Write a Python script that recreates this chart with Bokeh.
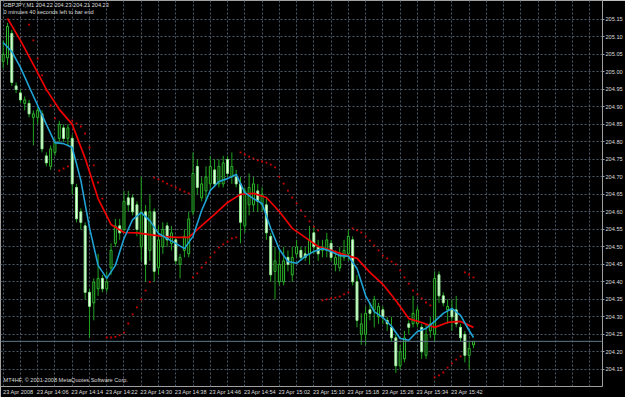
from bokeh.plotting import figure
from bokeh.models import FixedTicker, Label, Span, PrintfTickFormatter
from bokeh.embed import file_html
from bokeh.resources import INLINE

# ---------------- data (GBPJPY, M1, 23 Apr 2008 13:58 .. 15:47) ----------------
bars = list(range(110))
open_ = [205.03, 205.04, 205.11, 204.96, 204.94, 204.91, 204.91, 204.87, 204.87, 204.88,
         204.76, 204.73, 204.77, 204.81, 204.84, 204.81, 204.81, 204.67, 204.60, 204.56,
         204.37, 204.34, 204.38, 204.41, 204.38, 204.44, 204.51, 204.56, 204.55, 204.64,
         204.64, 204.62, 204.50, 204.60, 204.49, 204.60, 204.44, 204.50, 204.56, 204.51,
         204.52, 204.45, 204.49, 204.48, 204.60, 204.73, 204.64, 204.66, 204.68, 204.72,
         204.68, 204.68, 204.75, 204.70, 204.70, 204.68, 204.56, 204.62, 204.62, 204.66,
         204.62, 204.62, 204.53, 204.43, 204.40, 204.40, 204.47, 204.42, 204.48, 204.49,
         204.48, 204.48, 204.54, 204.50, 204.49, 204.49, 204.51, 204.45, 204.44, 204.47,
         204.48, 204.52, 204.40, 204.25, 204.25, 204.32, 204.32, 204.30, 204.32, 204.29,
         204.27, 204.24, 204.16, 204.18, 204.28, 204.28, 204.28, 204.27, 204.19, 204.26,
         204.25, 204.42, 204.36, 204.32, 204.32, 204.32, 204.27, 204.25, 204.19, 204.22]
high = [205.09, 205.14, 205.12, 204.97, 204.95, 204.93, 204.92, 204.89, 204.90, 204.89,
        204.77, 204.79, 204.81, 204.86, 204.85, 204.85, 204.82, 204.68, 204.61, 204.57,
        204.38, 204.41, 204.48, 204.42, 204.43, 204.51, 204.58, 204.58, 204.66, 204.66,
        204.65, 204.63, 204.70, 204.62, 204.65, 204.61, 204.56, 204.57, 204.57, 204.56,
        204.53, 204.48, 204.55, 204.60, 204.77, 204.75, 204.70, 204.73, 204.76, 204.75,
        204.75, 204.76, 204.76, 204.77, 204.72, 204.70, 204.67, 204.71, 204.70, 204.68,
        204.67, 204.64, 204.54, 204.50, 204.49, 204.50, 204.49, 204.50, 204.52, 204.50,
        204.50, 204.56, 204.56, 204.52, 204.52, 204.54, 204.52, 204.49, 204.50, 204.52,
        204.55, 204.53, 204.42, 204.31, 204.33, 204.34, 204.36, 204.34, 204.33, 204.30,
        204.30, 204.25, 204.22, 204.26, 204.29, 204.36, 204.33, 204.28, 204.28, 204.30,
        204.43, 204.43, 204.37, 204.35, 204.35, 204.36, 204.28, 204.26, 204.23, 204.23]
low = [205.01, 205.02, 204.96, 204.94, 204.91, 204.89, 204.87, 204.79, 204.85, 204.77,
       204.73, 204.72, 204.76, 204.80, 204.80, 204.79, 204.65, 204.57, 204.55, 204.35,
       204.24, 204.29, 204.36, 204.37, 204.37, 204.42, 204.50, 204.52, 204.54, 204.60,
       204.59, 204.53, 204.46, 204.40, 204.46, 204.40, 204.42, 204.48, 204.50, 204.49,
       204.45, 204.41, 204.47, 204.47, 204.59, 204.65, 204.63, 204.63, 204.66, 204.67,
       204.67, 204.67, 204.70, 204.68, 204.67, 204.51, 204.54, 204.59, 204.60, 204.60,
       204.60, 204.52, 204.40, 204.35, 204.39, 204.39, 204.43, 204.40, 204.47, 204.46,
       204.46, 204.45, 204.48, 204.46, 204.47, 204.47, 204.46, 204.43, 204.43, 204.46,
       204.46, 204.39, 204.27, 204.22, 204.22, 204.29, 204.27, 204.28, 204.28, 204.26,
       204.23, 204.14, 204.15, 204.17, 204.25, 204.27, 204.27, 204.18, 204.18, 204.24,
       204.23, 204.34, 204.33, 204.28, 204.26, 204.27, 204.23, 204.17, 204.15, 204.21]
close = [205.05, 205.13, 204.97, 204.95, 204.92, 204.92, 204.88, 204.88, 204.89, 204.78,
         204.74, 204.78, 204.80, 204.85, 204.81, 204.84, 204.68, 204.58, 204.57, 204.37,
         204.33, 204.40, 204.41, 204.38, 204.40, 204.49, 204.56, 204.54, 204.63, 204.62,
         204.60, 204.55, 204.60, 204.45, 204.60, 204.43, 204.52, 204.55, 204.52, 204.54,
         204.46, 204.47, 204.53, 204.58, 204.71, 204.67, 204.68, 204.70, 204.73, 204.68,
         204.73, 204.74, 204.71, 204.73, 204.68, 204.57, 204.66, 204.67, 204.68, 204.63,
         204.65, 204.54, 204.42, 204.46, 204.45, 204.46, 204.45, 204.47, 204.50, 204.47,
         204.47, 204.52, 204.50, 204.48, 204.50, 204.52, 204.47, 204.47, 204.48, 204.49,
         204.53, 204.40, 204.29, 204.28, 204.31, 204.31, 204.35, 204.33, 204.30, 204.28,
         204.24, 204.16, 204.20, 204.24, 204.27, 204.31, 204.32, 204.20, 204.25, 204.28,
         204.41, 204.36, 204.34, 204.33, 204.30, 204.28, 204.24, 204.19, 204.21, 204.23]

# slow moving average (red), read every 3 bars
ma_slow_bars = list(range(1, 110, 3))
ma_slow = [205.153, 205.090, 205.021, 204.950, 204.893, 204.850, 204.753, 204.638, 204.564,
           204.541, 204.540, 204.535, 204.530, 204.527, 204.527, 204.561, 204.593, 204.627,
           204.650, 204.653, 204.641, 204.601, 204.553, 204.527, 204.501, 204.490, 204.478,
           204.467, 204.427, 204.393, 204.347, 204.295, 204.284, 204.270, 204.284, 204.287,
           204.270]

# fast moving average (blue), read every 2 bars
ma_fast_bars = list(range(0, 110, 2)) + [109]
ma_fast = [205.084, 205.058, 205.013, 204.958, 204.904, 204.850, 204.798, 204.795, 204.784,
           204.690, 204.555, 204.447, 204.410, 204.447, 204.524, 204.578, 204.598, 204.575,
           204.538, 204.524, 204.510, 204.495, 204.530, 204.604, 204.661, 204.687, 204.695,
           204.707, 204.655, 204.638, 204.624, 204.553, 204.493, 204.458, 204.453, 204.473,
           204.487, 204.495, 204.487, 204.475, 204.473, 204.438, 204.361, 204.315, 204.298,
           204.273, 204.238, 204.233, 204.258, 204.267, 204.287, 204.310, 204.324, 204.304,
           204.261, 204.241]

# parabolic SAR dots, bars 6 .. 109
sar_bars = list(range(6, 110))
sar = [205.135, 205.090, 205.038, 204.990, 204.947, 204.904, 204.867,
       204.718, 204.724, 204.730,
       204.861, 204.853, 204.844, 204.824, 204.784, 204.733, 204.684, 204.638,
       204.241, 204.241, 204.243, 204.247, 204.255, 204.281, 204.307, 204.327, 204.350, 204.375, 204.400,
       204.698, 204.693, 204.687, 204.681, 204.675, 204.670, 204.664, 204.658, 204.653,
       204.413, 204.424, 204.441, 204.455, 204.470, 204.484, 204.498, 204.507, 204.515, 204.524, 204.527,
       204.770, 204.764, 204.758, 204.753, 204.747, 204.744, 204.741, 204.735, 204.727, 204.701,
       204.681, 204.661, 204.641, 204.624, 204.604, 204.587, 204.573, 204.558, 204.547,
       204.347, 204.350, 204.353, 204.355, 204.358, 204.364, 204.370,
       204.553, 204.547, 204.541, 204.530, 204.518, 204.504, 204.490, 204.475, 204.467, 204.458,
       204.450, 204.433, 204.413, 204.395, 204.375, 204.364, 204.353, 204.341, 204.333,
       204.127, 204.133, 204.141, 204.155, 204.167, 204.178, 204.187,
       204.427, 204.421, 204.413]

price_ticks = [204.15, 204.20, 204.25, 204.30, 204.35, 204.40, 204.45, 204.50, 204.55,
               204.60, 204.65, 204.70, 204.75, 204.80, 204.85, 204.90, 204.95, 205.00,
               205.05, 205.10, 205.15]
time_bars = [0, 8, 16, 24, 32, 40, 48, 56, 64, 72, 80, 88, 96, 104]
time_labels = ["23 Apr 2008", "23 Apr 14:06", "23 Apr 14:14", "23 Apr 14:22", "23 Apr 14:30",
               "23 Apr 14:38", "23 Apr 14:46", "23 Apr 14:54", "23 Apr 15:02", "23 Apr 15:10",
               "23 Apr 15:18", "23 Apr 15:26", "23 Apr 15:34", "23 Apr 15:42"]
grid_bars = list(range(0, 140, 4))
last_price = 204.23

FONT = "Liberation Sans"
FS = "5.6px"
TXT = "#dcdcdc"

p = figure(width=625, height=397, output_backend="svg", toolbar_location=None,
           x_range=(-0.62, 138.9), y_range=(204.101, 205.204),
           y_axis_location="right", min_border_left=0, min_border_top=0,
           min_border_right=21, min_border_bottom=11)
p.background_fill_color = "black"
p.border_fill_color = "black"
p.outline_line_color = "#a0a0a0"
p.outline_line_width = 1

yax = p.yaxis[0]
yax.ticker = FixedTicker(ticks=price_ticks)
yax.formatter = PrintfTickFormatter(format="%.2f")
yax.axis_line_color = None
yax.major_tick_in = 0
yax.major_tick_out = 2
yax.major_tick_line_color = "#a0a0a0"
yax.minor_tick_line_color = None
yax.major_label_text_font = FONT
yax.major_label_text_font_size = FS
yax.major_label_text_color = TXT
yax.major_label_standoff = 1

# MT4 prints each time label starting at its bar: the axis label is centred
# half a label-width (3.5 bars) to the right of the bar it names.
LABEL_SHIFT = 3.5
label_pos = [b + LABEL_SHIFT for b in time_bars]
xax = p.xaxis[0]
xax.ticker = FixedTicker(ticks=label_pos)
xax.major_label_overrides = {pos: t for pos, t in zip(label_pos, time_labels)}
xax.axis_line_color = None
xax.major_tick_line_color = None
xax.major_tick_in = 0
xax.major_tick_out = 0
xax.minor_tick_line_color = None
xax.major_label_text_font = FONT
xax.major_label_text_font_size = FS
xax.major_label_text_color = TXT
xax.major_label_standoff = 2

p.xgrid.ticker = FixedTicker(ticks=grid_bars)
for g in (p.xgrid[0], p.ygrid[0]):
    g.grid_line_color = "#4d5a68"
    g.grid_line_dash = "2 2"
    g.grid_line_width = 1

# current price line
p.add_layout(Span(location=last_price, dimension="width", line_color="#5c7888", line_width=1))

# candles
p.segment(x0=bars, y0=low, x1=bars, y1=high, line_color="#1fa31f", line_width=1)
bull = [i for i in bars if close[i] >= open_[i]]
bear = [i for i in bars if close[i] < open_[i]]
p.vbar(x=bull, width=0.45, top=[close[i] for i in bull], bottom=[open_[i] for i in bull],
       fill_color="black", line_color="#2dbb2d", line_width=1)
p.vbar(x=bear, width=0.45, top=[open_[i] for i in bear], bottom=[close[i] for i in bear],
       fill_color="#f4fff4", line_color="#8ee88e", line_width=1)

# indicators
p.line(ma_slow_bars, ma_slow, line_color="#f00000", line_width=1.7)
p.line(ma_fast_bars, ma_fast, line_color="#1fa3d6", line_width=1.6)
p.scatter(sar_bars, sar, marker="square", size=1.8, fill_color="#d00000", line_color=None)

# texts
p.add_layout(Label(x=3, y=382, x_units="screen", y_units="screen",
                   text="GBPJPY,M1  204.22 204.23 204.21 204.23",
                   text_font=FONT, text_font_size=FS, text_color=TXT, text_baseline="middle"))
p.add_layout(Label(x=3, y=375, x_units="screen", y_units="screen",
                   text="0 minutes 40 seconds left to bar end",
                   text_font=FONT, text_font_size=FS, text_color=TXT, text_baseline="middle"))
p.add_layout(Label(x=3, y=7, x_units="screen", y_units="screen",
                   text="MT4HF, \u00a9 2001-2008 MetaQuotes Software Corp.",
                   text_font=FONT, text_font_size=FS, text_color=TXT, text_baseline="middle"))
p.add_layout(Label(x=605, y=last_price, x_units="screen", y_units="data",
                   text="204.23", text_font=FONT, text_font_size=FS, text_color="black",
                   background_fill_color="white", text_baseline="middle",
                   padding=1))

open("out.html", "w").write(file_html(p, INLINE))
